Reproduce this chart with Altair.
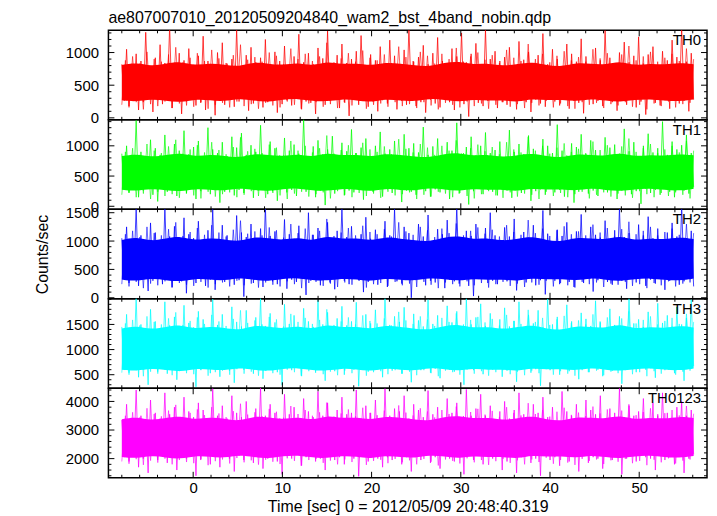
import altair as alt
import numpy as np
import pandas as pd

TITLE = "ae807007010_20120509204840_wam2_bst_4band_nobin.qdp"
X_TITLE = "Time [sec] 0 = 2012/05/09 20:48:40.319"
Y_TITLE = "Counts/sec"
T_START, T_END = -8.0, 56.1
X_DOMAIN = [-9.5, 57.6]
X_MAJOR = [0, 10, 20, 30, 40, 50]
X_MINOR = [-8, -6, -4, -2, 2, 4, 6, 8, 12, 14, 16, 18, 22, 24, 26, 28, 32, 34, 36, 38,
           42, 44, 46, 48, 52, 54, 56]

names = ["TH0", "TH1", "TH2", "TH3", "TH0123"]
colors = ["#ff0000", "#00ff00", "#0000ff", "#00ffff", "#ff00ff"]
y_domains = [[-30, 1340], [-50, 1430], [-18, 1560], [230, 2010], [1330, 4460]]
y_major = [[0, 500, 1000], [0, 500, 1000], [0, 500, 1000, 1500], [500, 1000, 1500],
           [2000, 3000, 4000]]
y_minor_step = [100, 100, 100, 100, 200]

# large upper excursions (hi) and lower excursions (lo) of each light curve, in time order
th0_hi = [820, 1050, 760, 980, 870, 1310, 790, 920, 1120, 840,
          1400, 760, 990, 880, 1060, 810, 950, 1250, 870, 780,
          1000, 1150, 830, 900, 1360, 790, 960, 1080, 850, 920,
          1200, 800, 1010, 870, 1100, 760, 940, 1280, 850, 990,
          820, 1070, 910, 1330, 780, 960, 1130, 840, 900, 1020,
          1260, 810, 970, 880, 1090, 830, 1190, 950, 790, 1040,
          1380, 860, 930, 1110, 820, 990, 1230, 870, 800, 1060,
          940, 1300, 850, 980, 1140, 810, 1350, 900, 1020, 870,
          930, 1080, 780, 1170, 890, 1010, 840, 960, 1290, 820,
          1050, 900, 770, 1130, 980, 860, 1210, 940, 810, 1070,
          880, 1340, 920, 790, 1000, 1160, 850, 950, 1240, 830,
          970, 1090, 800, 1020, 880, 1190, 930, 1390, 860, 990]
th0_lo = [260, 180, 310, 120, 240, 300, 90, 270, 210, 330,
          150, 280, 60, 250, 310, 190, 230, 120, 290, 40,
          260, 200, 310, 170, 250, 300, 110, 220, 280, 160,
          240, 320, 80, 210, 270, 190, 300, 140, 250, 230,
          60, 290, 200, 260, 310, 150, 240, 30, 280, 200,
          310, 170, 250, 100, 270, 220, 290, 130, 260, 200,
          310, 180, 240, 80, 280, 220, 160, 300, 240, 120,
          270, 210, 20, 290, 230, 180, 260, 300, 150, 240,
          200, 270, 130, 310, 240, 90, 280, 220, 170, 300,
          250, 190, 320, 140, 260, 230, 70, 290, 210, 260,
          180, 300, 240, 110, 270, 200, 320, 160, 250, 50,
          290, 230, 190, 270, 140, 310, 220, 260, 100, 280]
th1_hi = [870, 1000, 780, 1420, 900, 820, 1100, 960, 850, 1180,
          790, 1030, 920, 1250, 860, 980, 1080, 810, 1300, 940,
          880, 1060, 830, 1150, 970, 1210, 850, 1010, 900, 1340,
          790, 1070, 960, 840, 1130, 920, 1020, 870, 1440, 800,
          990, 1090, 860, 940, 1160, 830, 1050, 910, 1270, 880,
          970, 1120, 820, 1000, 1230, 870, 940, 1080, 810, 1190,
          960, 1040, 890, 1310, 850, 990, 1120, 830, 1060, 920,
          1380, 870, 980, 1150, 840, 1000, 1220, 880, 930, 1070,
          810, 1260, 900, 1030, 860, 1170, 950, 790, 1110, 1000,
          880, 1350, 920, 840, 1040, 980, 1190, 860, 1090, 930,
          800, 1140, 970, 1020, 870, 1280, 910, 1060, 830, 1000,
          1200, 890, 960, 1400, 850, 1070, 940, 1010, 1180, 880]
th1_lo = [280, 220, 330, 150, 260, 310, 190, 80, 290, 240,
          320, 170, 270, 210, 300, 120, 250, 330, 200, 280,
          60, 240, 310, 180, 270, 220, 290, 140, 260, 300,
          200, 250, 90, 310, 230, 270, 170, 300, 240, 280,
          150, 260, 20, 290, 210, 320, 180, 260, 230, 300,
          110, 270, 240, 300, 160, 280, 220, 310, 70, 260,
          240, 190, 300, 250, 160, 280, 230, 310, 120, 270,
          210, 290, 30, 250, 300, 200, 270, 240, 180, 310,
          260, 140, 290, 220, 320, 90, 250, 280, 190, 300,
          230, 270, 160, 310, 60, 240, 290, 210, 260, 170,
          300, 230, 280, 120, 260, 310, 200, 250, 40, 290,
          220, 270, 190, 300, 240, 150, 280, 260, 210, 320]
th2_hi = [1050, 1250, 960, 1580, 1100, 980, 1320, 1150, 1020, 1600,
          1080, 1260, 990, 1410, 1120, 1050, 1350, 970, 1190, 1560,
          1030, 1280, 1100, 980, 1450, 1150, 1070, 1300, 1000, 1220,
          1620, 1090, 1170, 990, 1380, 1120, 1040, 1270, 960, 1500,
          1110, 1230, 1050, 1330, 1000, 1180, 1590, 1070, 1260, 990,
          1120, 1420, 1040, 1200, 980, 1350, 1100, 1570, 1030, 1250,
          1140, 1010, 1300, 1080, 1460, 1000, 1210, 1120, 1370, 1050,
          1610, 990, 1180, 1090, 1300, 1030, 1230, 1500, 1100, 1020,
          1240, 1080, 1390, 970, 1160, 1060, 1280, 1010, 1540, 1130,
          1000, 1200, 1090, 1330, 1040, 1170, 1470, 980, 1250, 1110,
          1060, 1360, 1020, 1190, 1580, 1070, 1140, 1010, 1290, 1100,
          1430, 1050, 1220, 990, 1150, 1320, 1080, 1640, 1030, 1180]
th2_lo = [330, 260, 400, 210, 350, 120, 300, 380, 240, 320,
          180, 360, 290, 80, 340, 260, 390, 210, 320, 140,
          370, 280, 350, 230, 310, 20, 380, 260, 330, 190,
          350, 290, 240, 370, 160, 320, 280, 360, 50, 300,
          340, 220, 380, 270, 150, 350, 300, 240, 370, 310,
          100, 280, 360, 230, 330, 190, 370, 290, 250, 340,
          0, 310, 380, 220, 300, 270, 360, 170, 320, 290,
          250, 350, 210, 30, 330, 380, 260, 300, 240, 340,
          290, 360, 130, 320, 270, 380, 220, 310, 60, 350,
          300, 240, 370, 280, 190, 330, 260, 390, 110, 310,
          350, 280, 230, 360, 300, 160, 340, 270, 380, 210,
          320, 250, 370, 140, 300, 350, 230, 290, 360, 200]
th3_hi = [1450, 1700, 1350, 2050, 1500, 1380, 1800, 1560, 1420, 1950,
          1480, 1650, 1370, 1880, 1530, 1440, 1760, 1600, 1400, 2000,
          1490, 1700, 1380, 1850, 1550, 1460, 1780, 1400, 1640, 2030,
          1470, 1720, 1540, 1420, 1900, 1510, 1680, 1390, 1820, 1560,
          1450, 1980, 1500, 1740, 1410, 1620, 1860, 1480, 1560, 1940,
          1430, 1700, 1520, 1790, 1400, 2040, 1490, 1660, 1550, 1840,
          1420, 1710, 1580, 1460, 1990, 1510, 1680, 1400, 1870, 1540,
          1760, 1450, 2020, 1500, 1640, 1910, 1470, 1720, 1390, 1600,
          1830, 1460, 1570, 1950, 1410, 1690, 1520, 1780, 1440, 2010,
          1500, 1650, 1380, 1890, 1560, 1430, 1730, 1610, 1470, 1970,
          1540, 1400, 1810, 1490, 1660, 1380, 2060, 1520, 1600, 1450,
          1750, 1420, 1920, 1530, 1680, 1460, 1850, 1500, 1630, 1990]
th3_lo = [620, 540, 680, 450, 600, 300, 650, 560, 700, 520,
          620, 400, 680, 580, 640, 260, 600, 690, 530, 630,
          460, 670, 580, 340, 650, 600, 700, 520, 640, 420,
          600, 680, 550, 290, 640, 590, 700, 480, 620, 660,
          540, 610, 380, 680, 570, 640, 500, 690, 600, 270,
          650, 560, 680, 600, 450, 640, 580, 700, 520, 630,
          350, 660, 590, 690, 540, 620, 430, 670, 600, 560,
          690, 300, 640, 590, 680, 510, 640, 600, 700, 460,
          580, 670, 360, 630, 690, 540, 610, 280, 660, 590,
          640, 500, 700, 570, 620, 410, 680, 550, 650, 600,
          470, 690, 580, 640, 320, 610, 670, 550, 700, 600,
          630, 440, 680, 590, 650, 530, 700, 380, 620, 670]
th0123_hi = [3350, 3900, 3250, 4400, 3500, 3300, 4050, 3600, 3400, 4300,
             3550, 3800, 3300, 4150, 3650, 3450, 3950, 3700, 3350, 4450,
             3500, 3850, 3400, 4200, 3600, 3450, 4000, 3350, 3750, 4480,
             3500, 3900, 3600, 3400, 4250, 3550, 3800, 3300, 4100, 3650,
             3450, 4350, 3500, 3950, 3350, 3700, 4150, 3550, 3600, 4400,
             3400, 3850, 3600, 4050, 3350, 4450, 3500, 3750, 3650, 4200,
             3400, 3900, 3700, 3450, 4380, 3550, 3800, 3300, 4100, 3600,
             3950, 3450, 4420, 3500, 3750, 4250, 3500, 3850, 3300, 3650,
             4000, 3400, 3700, 4300, 3550, 3350, 3900, 3600, 4150, 3450,
             3800, 3300, 4350, 3650, 3500, 3900, 3400, 4050, 3700, 3550,
             4200, 3350, 3750, 3600, 4460, 3450, 3850, 3500, 3650, 4100,
             3400, 3950, 3550, 4300, 3600, 3350, 3800, 4000, 3500, 3700]
th0123_lo = [2050, 1900, 2150, 1700, 2000, 1500, 2100, 1950, 2200, 1850,
             2050, 1600, 2150, 2000, 2100, 1400, 1950, 2200, 1800, 2050,
             1700, 2150, 2000, 1550, 2100, 1950, 2200, 1850, 2050, 1650,
             2000, 2150, 1900, 1450, 2100, 2000, 2200, 1750, 2050, 2100,
             1900, 2000, 1600, 2150, 1950, 2050, 1800, 2200, 2000, 1380,
             2100, 1900, 2150, 2000, 1700, 2050, 1950, 2200, 1800, 2050,
             1550, 2150, 1950, 2200, 1850, 2050, 1650, 2150, 2000, 1900,
             2200, 1450, 2100, 1950, 2150, 1800, 2100, 2000, 2200, 1600,
             1900, 2150, 1500, 2050, 2200, 1850, 2000, 1400, 2100, 1950,
             2050, 1750, 2200, 1900, 2100, 1550, 2150, 1850, 2050, 2000,
             1650, 2200, 1950, 2100, 1450, 2000, 2150, 1900, 2200, 2050,
             2000, 1600, 2150, 1950, 2050, 1800, 2200, 1500, 2000, 2150]

# moderate excursions filling the fringe just outside the dense band
th0_hi2 = [880, 940, 830, 1010, 900, 860, 970, 1080, 850, 920, 990, 870, 1040, 910, 840, 960, 1120, 890, 930, 860,
           1000, 950, 820, 1060, 900, 980, 870, 940, 1150, 850, 910, 990, 860, 1030, 920, 880, 970, 840, 1090, 930,
           870, 1010, 950, 830, 980, 900, 1070, 860, 940, 1000, 890, 960, 840, 1040, 920, 870, 1130, 900, 980, 850,
           950, 1020, 880, 930, 860, 1050, 910, 990, 840, 970, 1100, 880, 940, 1010, 860, 920, 980, 870, 1060, 900]
th0_lo2 = [200, 160, 240, 130, 210, 180, 250, 150, 220, 190, 170, 240, 140, 200, 230, 160, 250, 180, 210, 140,
           230, 190, 160, 250, 200, 130, 220, 240, 170, 210, 150, 230, 190, 260, 140, 200, 220, 170, 240, 180,
           210, 150, 240, 190, 130, 230, 200, 160, 250, 180, 220, 140, 200, 240, 170, 210, 150, 230, 190, 260,
           160, 220, 180, 140, 240, 200, 230, 150, 210, 190, 240, 170, 200, 130, 220, 180, 250, 160, 210, 230]
th1_hi2 = [900, 960, 850, 1030, 920, 880, 990, 1100, 870, 940, 1010, 890, 1060, 930, 860, 980, 1140, 910, 950, 880,
           1020, 970, 840, 1080, 920, 1000, 890, 960, 1170, 870, 930, 1010, 880, 1050, 940, 900, 990, 860, 1110, 950,
           890, 1030, 970, 850, 1000, 920, 1090, 880, 960, 1020, 910, 980, 860, 1060, 940, 890, 1150, 920, 1000, 870,
           970, 1040, 900, 950, 880, 1070, 930, 1010, 860, 990, 1120, 900, 960, 1030, 880, 940, 1000, 890, 1080, 920]
th1_lo2 = [190, 230, 150, 210, 120, 240, 170, 200, 140, 220, 180, 130, 240, 160, 200, 230, 150, 190, 250, 170,
           140, 220, 180, 120, 210, 240, 160, 200, 230, 130, 250, 190, 150, 220, 170, 210, 140, 240, 180, 200,
           230, 120, 190, 160, 240, 210, 150, 220, 170, 130, 200, 250, 180, 140, 230, 160, 210, 190, 120, 240,
           170, 220, 150, 200, 240, 130, 190, 230, 160, 210, 180, 140, 250, 200, 150, 220, 170, 230, 190, 130]
th2_hi2 = [1120, 1180, 1070, 1250, 1140, 1100, 1210, 1330, 1090, 1160, 1230, 1110, 1280, 1150, 1080, 1200, 1360, 1130, 1170, 1100,
           1240, 1190, 1060, 1300, 1140, 1220, 1110, 1180, 1390, 1090, 1150, 1230, 1100, 1270, 1160, 1120, 1210, 1080, 1330, 1170,
           1110, 1250, 1190, 1070, 1220, 1140, 1310, 1100, 1180, 1240, 1130, 1200, 1080, 1280, 1160, 1110, 1370, 1140, 1220, 1090,
           1190, 1260, 1120, 1170, 1100, 1290, 1150, 1230, 1080, 1210, 1340, 1120, 1180, 1250, 1100, 1160, 1220, 1110, 1300, 1140]
th2_lo2 = [240, 200, 280, 170, 250, 220, 290, 190, 260, 230, 210, 280, 180, 240, 270, 200, 300, 220, 250, 180,
           270, 230, 200, 290, 240, 170, 260, 280, 210, 250, 190, 270, 230, 300, 180, 240, 260, 210, 280, 220,
           250, 190, 280, 230, 170, 270, 240, 200, 290, 220, 260, 180, 240, 280, 210, 250, 190, 270, 230, 300,
           200, 260, 220, 180, 280, 240, 270, 190, 250, 230, 280, 210, 240, 170, 260, 220, 290, 200, 250, 270]
th3_hi2 = [1520, 1590, 1480, 1660, 1550, 1500, 1620, 1740, 1490, 1570, 1640, 1510, 1690, 1560, 1470, 1610, 1780, 1530, 1580, 1500,
           1650, 1600, 1460, 1710, 1550, 1630, 1510, 1590, 1800, 1490, 1560, 1640, 1500, 1680, 1570, 1520, 1620, 1480, 1750, 1580,
           1510, 1660, 1600, 1470, 1630, 1550, 1720, 1500, 1590, 1650, 1540, 1610, 1480, 1690, 1570, 1510, 1790, 1550, 1630, 1490,
           1600, 1670, 1530, 1580, 1500, 1700, 1560, 1640, 1480, 1620, 1760, 1520, 1590, 1660, 1500, 1570, 1630, 1510, 1710, 1550]
th3_lo2 = [540, 500, 590, 470, 560, 520, 600, 490, 570, 530, 510, 590, 480, 550, 580, 500, 610, 520, 560, 480,
           580, 530, 500, 600, 550, 470, 570, 590, 510, 560, 490, 580, 530, 620, 480, 550, 570, 510, 590, 520,
           560, 490, 590, 530, 470, 580, 550, 500, 600, 520, 570, 480, 550, 590, 510, 560, 490, 580, 530, 610,
           500, 570, 520, 480, 590, 550, 580, 490, 560, 530, 590, 510, 550, 470, 570, 520, 600, 500, 560, 580]
th0123_hi2 = [3500, 3620, 3440, 3760, 3560, 3480, 3680, 3880, 3460, 3600, 3720, 3520, 3800, 3580, 3450, 3660, 3920, 3540, 3620, 3480,
              3740, 3640, 3430, 3840, 3560, 3700, 3500, 3620, 3960, 3470, 3580, 3720, 3480, 3780, 3600, 3520, 3680, 3450, 3860, 3610,
              3510, 3760, 3650, 3440, 3700, 3560, 3820, 3490, 3630, 3740, 3540, 3670, 3460, 3800, 3600, 3510, 3940, 3560, 3700, 3470,
              3640, 3780, 3530, 3610, 3490, 3820, 3580, 3720, 3450, 3680, 3900, 3520, 3630, 3760, 3490, 3590, 3700, 3510, 3840, 3570]
th0123_lo2 = [1900, 1820, 1980, 1780, 1930, 1860, 2000, 1800, 1950, 1880, 1840, 1990, 1770, 1910, 1970, 1830, 2020, 1870, 1940, 1790,
              1960, 1890, 1810, 2010, 1920, 1760, 1950, 1990, 1850, 1930, 1800, 1970, 1880, 2040, 1780, 1920, 1960, 1840, 1990, 1870,
              1940, 1800, 1990, 1890, 1760, 1970, 1920, 1830, 2010, 1870, 1950, 1780, 1910, 1990, 1850, 1940, 1800, 1970, 1880, 2030,
              1820, 1950, 1860, 1780, 1990, 1920, 1970, 1810, 1940, 1890, 1990, 1840, 1920, 1770, 1960, 1870, 2010, 1830, 1930, 1970]

series_hi = [th0_hi, th1_hi, th2_hi, th3_hi, th0123_hi]
series_lo = [th0_lo, th1_lo, th2_lo, th3_lo, th0123_lo]
series_hi2 = [th0_hi2, th1_hi2, th2_hi2, th3_hi2, th0123_hi2]
series_lo2 = [th0_lo2, th1_lo2, th2_lo2, th3_lo2, th0123_lo2]

# dense central band of each light curve (lower and upper edge)
core_lo = [
    [270, 245, 290, 260, 235, 285, 270, 250, 300, 262, 240, 280, 295, 258, 248, 288, 270, 236, 292, 262,
     250, 298, 274, 244, 286, 260, 272, 238, 294, 266, 280, 248, 296, 262, 242, 276, 288, 264, 250, 282],
    [275, 250, 296, 265, 240, 290, 275, 255, 305, 268, 246, 286, 300, 262, 252, 292, 276, 242, 298, 268,
     256, 304, 280, 250, 292, 266, 278, 244, 300, 272, 286, 254, 302, 268, 248, 282, 294, 270, 256, 288],
    [320, 290, 345, 310, 282, 340, 322, 300, 355, 315, 290, 336, 350, 308, 298, 342, 324, 286, 348, 314,
     300, 354, 328, 294, 340, 312, 326, 288, 350, 318, 336, 300, 352, 316, 292, 330, 344, 318, 302, 338],
    [600, 570, 630, 590, 560, 625, 604, 580, 640, 596, 568, 620, 636, 588, 576, 628, 606, 564, 634, 594,
     580, 640, 610, 574, 626, 592, 608, 566, 636, 600, 620, 580, 638, 598, 570, 614, 630, 600, 582, 622],
    [2060, 2000, 2110, 2040, 1980, 2100, 2064, 2020, 2130, 2050, 1995, 2090, 2120, 2035, 2010, 2105, 2068, 1990, 2115, 2045,
     2020, 2128, 2075, 2005, 2098, 2040, 2070, 1992, 2122, 2055, 2090, 2018, 2125, 2050, 2000, 2080, 2110, 2056, 2024, 2095],
]
core_hi = [
    [810, 850, 790, 830, 865, 800, 840, 815, 780, 855, 830, 805, 850, 790, 870, 815, 840, 795, 855, 825,
     805, 785, 845, 868, 812, 838, 792, 826, 858, 804, 784, 846, 826, 812, 872, 796, 836, 810, 848, 822],
    [830, 870, 810, 850, 885, 820, 860, 835, 800, 875, 850, 825, 870, 810, 890, 835, 860, 815, 875, 845,
     825, 805, 865, 888, 832, 858, 812, 846, 878, 824, 804, 866, 846, 832, 892, 816, 856, 830, 868, 842],
    [1020, 1075, 995, 1045, 1090, 1005, 1060, 1030, 985, 1080, 1050, 1015, 1070, 995, 1100, 1030, 1060, 1000, 1080, 1040,
     1015, 990, 1065, 1095, 1025, 1058, 1000, 1042, 1085, 1012, 988, 1068, 1044, 1026, 1102, 1004, 1056, 1022, 1072, 1036],
    [1420, 1480, 1395, 1450, 1500, 1405, 1465, 1430, 1380, 1490, 1455, 1415, 1475, 1395, 1510, 1430, 1465, 1400, 1490, 1445,
     1415, 1388, 1470, 1505, 1425, 1462, 1400, 1446, 1495, 1410, 1385, 1472, 1448, 1426, 1515, 1402, 1460, 1420, 1478, 1440],
    [3380, 3470, 3330, 3420, 3500, 3350, 3450, 3400, 3300, 3490, 3440, 3370, 3470, 3330, 3520, 3400, 3455, 3345, 3490, 3425,
     3370, 3320, 3460, 3510, 3390, 3450, 3340, 3415, 3495, 3365, 3310, 3465, 3425, 3395, 3525, 3350, 3445, 3385, 3475, 3420],
]

W = 602
H = 90
FONT = "Liberation Sans"
LABEL_FS = 15
TITLE_FS = 16


def panel(i):
    vals = [v for pair in zip(series_hi[i], series_lo[i]) for v in pair]
    df_line = pd.DataFrame({"t": np.linspace(T_START, T_END, len(vals)), "v": vals})
    vals2 = [v for pair in zip(series_lo2[i], series_hi2[i]) for v in pair]
    df_line2 = pd.DataFrame({"t": np.linspace(T_START, T_END, len(vals2)), "v": vals2})
    lo, hi = core_lo[i], core_hi[i]
    df_core = pd.DataFrame({"t": np.linspace(T_START, T_END, len(lo)), "lo": lo, "hi": hi})
    d0, d1 = y_domains[i]
    ymaj = y_major[i]
    step = y_minor_step[i]
    ymin_vals = [v for v in range(int(np.ceil(d0 / step) * step), int(d1) + 1, step) if v not in ymaj]

    xscale = alt.Scale(domain=X_DOMAIN, nice=False, zero=False)
    yscale = alt.Scale(domain=y_domains[i], nice=False, zero=False)

    last = i == len(names) - 1
    if last:
        xaxis = alt.Axis(values=X_MAJOR, format="d", ticks=False, domain=False, grid=False,
                         labelFontSize=LABEL_FS, labelFont=FONT, labelColor="black", labelPadding=3,
                         labelFlush=False, labelOverlap=False,
                         title=X_TITLE, titleFont=FONT, titleFontSize=TITLE_FS, titleFontWeight="normal",
                         titleColor="black", titlePadding=3)
    else:
        xaxis = None
    yaxis = alt.Axis(values=ymaj, format="d", ticks=False, domain=False, grid=False,
                     labelFontSize=LABEL_FS, labelFont=FONT, labelColor="black", labelPadding=10,
                     labelFlush=False, labelOverlap=False, labelBound=False,
                     title=Y_TITLE if i == 2 else None, titleFont=FONT, titleFontSize=TITLE_FS,
                     titleFontWeight="normal", titleColor="black", titlePadding=15)

    def X(field):
        return alt.X(field, type="quantitative", scale=xscale, axis=xaxis)

    def Y(field):
        return alt.Y(field, type="quantitative", scale=yscale, axis=yaxis)

    core = alt.Chart(df_core).mark_area(color=colors[i], clip=True, opacity=1, interpolate="basis").encode(
        x=X("t"), y=Y("lo"), y2="hi",
    )
    line2 = alt.Chart(df_line2).mark_line(color=colors[i], strokeWidth=1, clip=True, opacity=0.6).encode(
        x=X("t"), y=Y("v"),
    )
    line = alt.Chart(df_line).mark_line(color=colors[i], strokeWidth=1, clip=True, opacity=0.75).encode(
        x=X("t"), y=Y("v"),
    )

    layers = [core, line2, line]
    yt_maj = pd.DataFrame({"y": ymaj})
    yt_min = pd.DataFrame({"y": ymin_vals})
    xt_maj = pd.DataFrame({"x": X_MAJOR})
    xt_min = pd.DataFrame({"x": X_MINOR})
    for dfy, L in [(yt_maj, 6), (yt_min, 3)]:
        layers.append(alt.Chart(dfy).mark_rule(color="black", strokeWidth=1).encode(
            y=Y("y"), x=alt.value(0), x2=alt.value(L)))
        layers.append(alt.Chart(dfy).mark_rule(color="black", strokeWidth=1).encode(
            y=Y("y"), x=alt.value(W - L), x2=alt.value(W)))
    for dfx, L in [(xt_maj, 6), (xt_min, 3)]:
        layers.append(alt.Chart(dfx).mark_rule(color="black", strokeWidth=1).encode(
            x=X("x"), y=alt.value(0), y2=alt.value(L)))
        layers.append(alt.Chart(dfx).mark_rule(color="black", strokeWidth=1).encode(
            x=X("x"), y=alt.value(H - L), y2=alt.value(H)))

    label = alt.Chart(pd.DataFrame({"name": [names[i]]})).mark_text(
        align="right", baseline="alphabetic", fontSize=LABEL_FS, font=FONT, color="black"
    ).encode(text="name:N", x=alt.value(W - 6), y=alt.value(15))
    layers.append(label)

    return alt.layer(*layers).properties(width=W, height=H)


chart = alt.vconcat(*[panel(i) for i in range(len(names))], spacing=0, bounds="flush").properties(
    title=alt.TitleParams(TITLE, anchor="start", frame="group", fontSize=TITLE_FS, font=FONT,
                          fontWeight="normal", color="black", offset=3),
    padding={"left": 25, "top": 0, "right": 0, "bottom": 0},
).configure_view(stroke="black", strokeWidth=1.5).configure_concat(spacing=0)

chart.save("out.html", embed_options={"renderer": "svg", "actions": False})
